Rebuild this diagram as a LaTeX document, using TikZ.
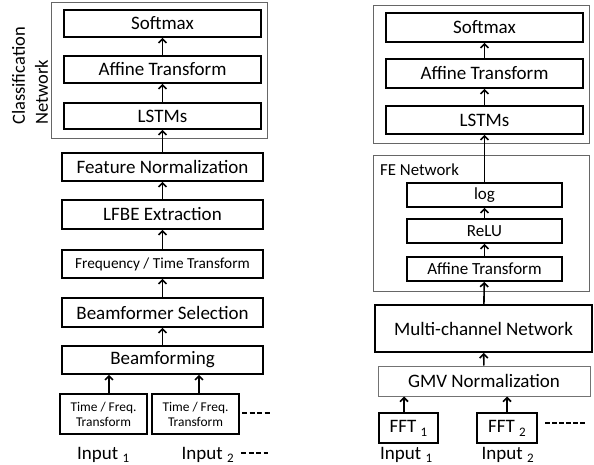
\documentclass[tikz,border=0pt]{standalone}
\usepackage{fontspec}
\setmainfont{Carlito}
\usetikzlibrary{arrows.meta}
\begin{document}
\begin{tikzpicture}[x=1pt,y=-1pt,
  blk/.style={draw=black, line width=1.6pt, inner sep=0pt, font=\fontsize{19}{22}\selectfont},
  thinblk/.style={draw=black, line width=1.1pt, inner sep=0pt, font=\fontsize{19}{22}\selectfont},
  grayblk/.style={draw=black!55, line width=1.0pt, inner sep=0pt, font=\fontsize{19}{22}\selectfont},
  outer/.style={draw=black!60, line width=0.9pt, inner sep=0pt},
  arr/.style={-{Straight Barb[length=4pt,width=8pt]}, line width=1.6pt},
  dsh/.style={line width=1.3pt, dash pattern=on 5pt off 2.5pt},
  lbl/.style={inner sep=0pt, font=\fontsize{19}{22}\selectfont}
]
\useasboundingbox (0,0) rectangle (594,465);

% ---------------- Left pipeline ----------------
\node[outer, minimum width=216pt, minimum height=136pt] (clsL) at (159,70) {};
\node[lbl, rotate=90, align=left, anchor=west, font=\fontsize{18.5}{23}\selectfont] (clsLabel) at (30,125) {Classification\\Network};

\node[blk, minimum width=197pt, minimum height=27pt] (smL) at (162.5,23.5) {Softmax};
\node[blk, minimum width=197pt, minimum height=27pt] (afL) at (162.5,69.5) {Affine Transform};
\node[blk, minimum width=197pt, minimum height=26pt] (lsL) at (162.5,116) {LSTMs};
\node[blk, minimum width=201pt, minimum height=28pt] (fnL) at (162.5,167) {Feature Normalization};
\node[blk, minimum width=201pt, minimum height=29pt] (lfL) at (162.5,214.5) {LFBE Extraction};
\node[blk, minimum width=201pt, minimum height=28pt, font=\fontsize{15.3}{18}\selectfont] (ftL) at (162.5,264) {Frequency / Time Transform};
\node[blk, minimum width=201pt, minimum height=29pt] (bsL) at (162.5,312.5) {Beamformer Selection};
\node[blk, minimum width=201pt, minimum height=28pt] (bfL) at (162.5,360) {Beamforming};
\node[blk, minimum width=87pt, minimum height=40pt, align=center, font=\fontsize{13.4}{15}\selectfont] (tf1) at (103.5,414) {Time / Freq.\\Transform};
\node[blk, minimum width=87pt, minimum height=40pt, align=center, font=\fontsize{13.4}{15}\selectfont] (tf2) at (195.5,414) {Time / Freq.\\Transform};

\draw[arr] (afL) -- (smL);
\draw[arr] (lsL) -- (afL);
\draw[arr] (fnL) -- (lsL);
\draw[arr] (lfL) -- (fnL);
\draw[arr] (ftL) -- (lfL);
\draw[arr] (bsL) -- (ftL);
\draw[arr] (bfL) -- (bsL);
\draw[arr] (tf1.north -| 109,0) -- (bfL.south -| 109,0);
\draw[arr] (tf2.north -| 199,0) -- (bfL.south -| 199,0);

\coordinate (dA1) at (242,413);
\coordinate (dA2) at (270,413);
\draw[dsh] (dA1) -- (dA2);

\node[lbl, anchor=base west] (in1L) at (77,459) {Input \raisebox{-3.5pt}{\fontsize{13}{13}\selectfont 1}};
\node[lbl, anchor=base west] (in2L) at (181.5,459) {Input \raisebox{-3.5pt}{\fontsize{13}{13}\selectfont 2}};
\coordinate (dB1) at (241,453);
\coordinate (dB2) at (268,453);
\draw[dsh] (dB1) -- (dB2);

% ---------------- Right pipeline ----------------
\node[outer, minimum width=216pt, minimum height=138pt] (clsR) at (481,74) {};
\node[blk, minimum width=197pt, minimum height=29pt] (smR) at (484.5,27.5) {Softmax};
\node[blk, minimum width=197pt, minimum height=29pt] (afR) at (484.5,73.5) {Affine Transform};
\node[blk, minimum width=197pt, minimum height=28pt] (lsR) at (484.5,120) {LSTMs};

\node[outer, minimum width=216pt, minimum height=136pt] (feR) at (481,223) {};
\node[lbl, anchor=base west, font=\fontsize{16.8}{20}\selectfont] (feLabel) at (380,176) {FE Network};
\node[blk, minimum width=155pt, minimum height=24pt, font=\fontsize{17}{20}\selectfont] (logR) at (484.5,195) {log};
\node[blk, minimum width=155pt, minimum height=24pt, font=\fontsize{17}{20}\selectfont] (reR) at (484.5,231) {ReLU};
\node[blk, minimum width=155pt, minimum height=24pt, font=\fontsize{17}{20}\selectfont] (afeR) at (484.5,269) {Affine Transform};

\node[blk, line width=1.8pt, minimum width=217pt, minimum height=47pt] (mcR) at (483.5,328.5) {Multi-channel Network};
\node[grayblk, minimum width=212pt, minimum height=30pt] (gmvR) at (484,381) {GMV Normalization};
\node[thinblk, minimum width=59pt, minimum height=30pt] (fft1) at (408.5,428) {FFT \raisebox{-4pt}{\fontsize{13}{13}\selectfont 1}};
\node[thinblk, minimum width=60pt, minimum height=30pt] (fft2) at (507,428) {FFT \raisebox{-4pt}{\fontsize{13}{13}\selectfont 2}};

\draw[arr] (afR) -- (smR);
\draw[arr] (lsR) -- (afR);
\draw[arr] (logR) -- (lsR);
\draw[arr] (reR) -- (logR);
\draw[arr] (afeR) -- (reR);
\draw[arr] (mcR) -- (afeR);
\draw[arr] (gmvR) -- (mcR);
\draw[arr] (fft1.north -| 404,0) -- (gmvR.south -| 404,0);
\draw[arr] (fft2.north -| 507,0) -- (gmvR.south -| 507,0);

\coordinate (dC1) at (545,423);
\coordinate (dC2) at (587,423);
\draw[dsh, dash pattern=on 4.5pt off 2.5pt] (dC1) -- (dC2);

\node[lbl, anchor=base west] (in1R) at (380,459.5) {Input \raisebox{-2.5pt}{\fontsize{13}{13}\selectfont 1}};
\node[lbl, anchor=base west] (in2R) at (481.5,459.5) {Input \raisebox{-2.5pt}{\fontsize{13}{13}\selectfont 2}};
\end{tikzpicture}
\end{document}
